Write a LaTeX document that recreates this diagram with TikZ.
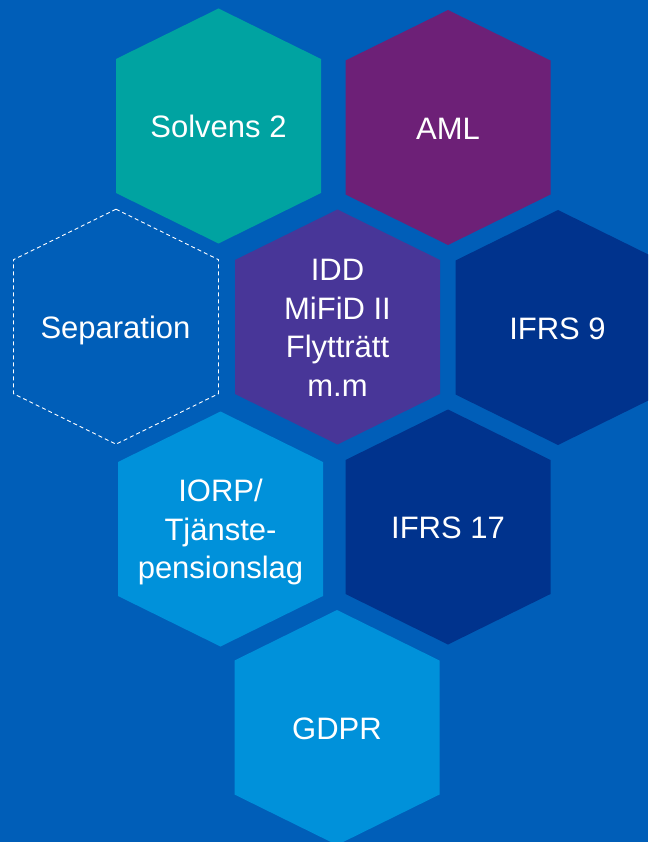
\documentclass[tikz,border=0pt]{standalone}
\usepackage{fontspec}
\setmainfont{Liberation Sans}
\definecolor{kbg}{HTML}{005EB8}
\definecolor{kteal}{HTML}{00A3A1}
\definecolor{kpurple}{HTML}{6D2077}
\definecolor{kviolet}{HTML}{483698}
\definecolor{knavy}{HTML}{00338D}
\definecolor{klight}{HTML}{0091DA}
\tikzset{
  hexagon/.pic={\path[pic actions] (0,-117.5) -- (102.5,-67) -- (102.5,67) -- (0,117.5) -- (-102.5,67) -- (-102.5,-67) -- cycle;},
  hextext/.style={text=white, font=\fontsize{31}{38.5}\selectfont, align=center, anchor=center, inner sep=0pt},
  oneline/.style={hextext, text height=22.2pt, text depth=0pt},
  dashhex/.style={draw=white, line width=0.9pt, dash pattern=on 4pt off 3pt}
}
\begin{document}
\begin{tikzpicture}[x=1pt,y=-1pt]
\fill[kbg] (0,0) rectangle (648,842);
\useasboundingbox (0,0) rectangle (648,842);
\begin{scope}
\clip (0,0) rectangle (648,842);
\pic[fill=kteal] at (218.5,126) {hexagon};
\pic[fill=kpurple] at (448,127.5) {hexagon};
\pic[dashhex] at (116,326.7) {hexagon};
\pic[fill=kviolet] at (337.5,327) {hexagon};
\pic[fill=knavy] at (558,327.5) {hexagon};
\pic[fill=klight] at (220.5,529) {hexagon};
\pic[fill=knavy] at (448,527) {hexagon};
\pic[fill=klight] at (337,727.5) {hexagon};
\end{scope}
\node[oneline] (solvens) at (218.5,126.7) {Solvens 2};
\node[oneline] (aml) at (448,128) {AML};
\node[oneline] (separation) at (115.5,327) {Separation};
\node[hextext] (idd) at (337.5,328) {IDD\\MiFiD II\\Flytträtt\\m.m};
\node[oneline] (ifrs9) at (557.5,328) {IFRS 9};
\node[hextext] (iorp) at (220.5,532) {IORP/\\Tjänste-\\pensionslag};
\node[oneline] (ifrs17) at (448,527.5) {IFRS 17};
\node[oneline] (gdpr) at (337,728) {GDPR};
\end{tikzpicture}
\end{document}
